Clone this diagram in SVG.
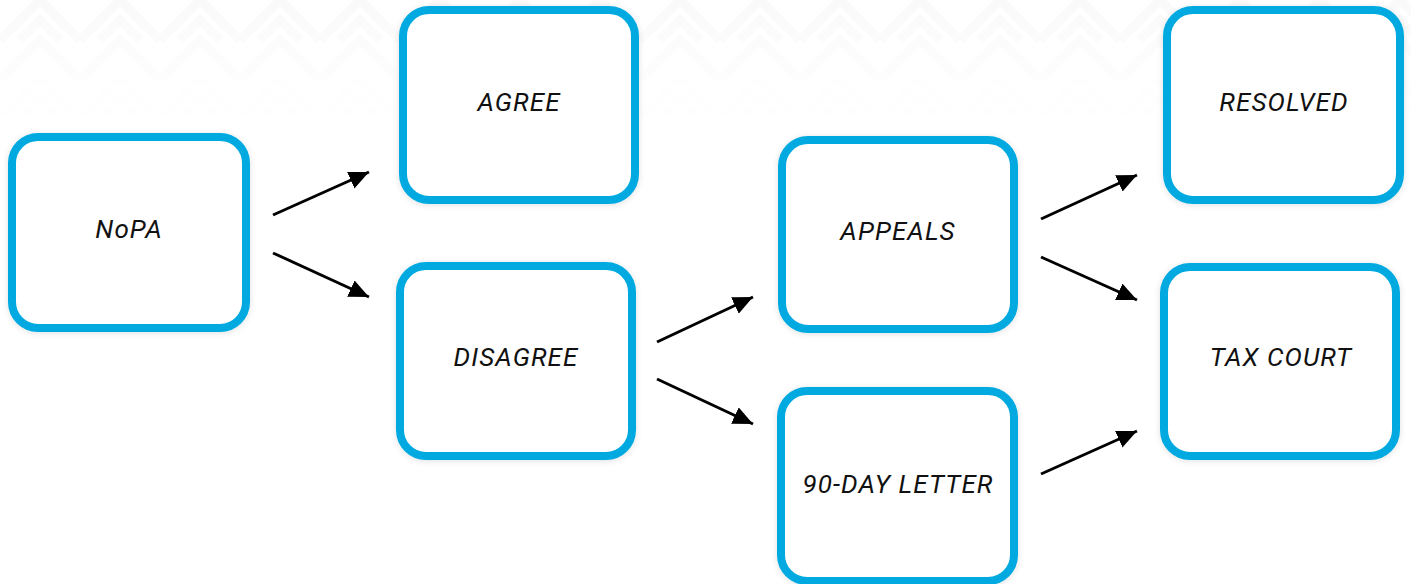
<svg xmlns="http://www.w3.org/2000/svg" width="1411" height="584" viewBox="0 0 1411 584">
  <defs>
    <style>
      .box { fill: #ffffff; stroke: #00A9E0; stroke-width: 8; filter: url(#sh); }
      .lbl { font-family: Roboto, "Liberation Sans", sans-serif; font-style: italic; font-size: 26px; letter-spacing: 1.1px; fill: #111111; text-anchor: middle; }
      .conn line { stroke: #000000; stroke-width: 3; marker-end: url(#ah); }
    </style>
    <marker id="ah" markerUnits="userSpaceOnUse" markerWidth="22" markerHeight="20" refX="20" refY="9" orient="auto">
      <path d="M0,0 L20,9 L0,18 z" fill="#000000"/>
    </marker>
    <filter id="sh" x="-10%" y="-10%" width="120%" height="120%">
      <feDropShadow dx="0" dy="1" stdDeviation="3" flood-color="#000000" flood-opacity="0.12"/>
    </filter>
    <pattern id="bgp" width="80" height="80" patternUnits="userSpaceOnUse">
      <path d="M0,40 L40,0 L80,40 M0,80 L40,40 L80,80 M20,40 L40,20 L60,40" fill="none" stroke="#f4f4f4" stroke-width="9"/>
    </pattern>
    <linearGradient id="fade" x1="0" y1="0" x2="0" y2="1">
      <stop offset="0" stop-color="#ffffff" stop-opacity="1"/>
      <stop offset="1" stop-color="#ffffff" stop-opacity="0"/>
    </linearGradient>
    <mask id="fm">
      <rect x="0" y="0" width="1411" height="120" fill="url(#fade)"/>
    </mask>
  </defs>
  <rect x="0" y="0" width="1411" height="584" fill="#ffffff"/>
  <rect x="0" y="0" width="1411" height="120" fill="url(#bgp)" mask="url(#fm)" opacity="0.5"/>

  <g id="nopa"><rect class="box" x="12" y="137" width="234" height="191" rx="26"/><text class="lbl" x="129" y="238">NoPA</text></g>
  <g id="agree"><rect class="box" x="403" y="10" width="232" height="190" rx="26"/><text class="lbl" x="519" y="111">AGREE</text></g>
  <g id="disagree"><rect class="box" x="400" y="266" width="232" height="190" rx="26"/><text class="lbl" x="516" y="366">DISAGREE</text></g>
  <g id="appeals"><rect class="box" x="782" y="140" width="232" height="189" rx="26"/><text class="lbl" x="898" y="240">APPEALS</text></g>
  <g id="letter90"><rect class="box" x="781" y="391" width="233" height="190" rx="26"/><text class="lbl" x="898" y="493">90-DAY LETTER</text></g>
  <g id="resolved"><rect class="box" x="1167" y="10" width="233" height="190" rx="26"/><text class="lbl" x="1284" y="111">RESOLVED</text></g>
  <g id="taxcourt"><rect class="box" x="1164" y="267" width="232" height="189" rx="26"/><text class="lbl" x="1281" y="366">TAX COURT</text></g>

  <g id="connectors" class="conn">
    <line x1="273" y1="215" x2="369" y2="172"/>
    <line x1="273" y1="253" x2="369" y2="297"/>
    <line x1="657" y1="342" x2="753" y2="297"/>
    <line x1="657" y1="379" x2="753" y2="424"/>
    <line x1="1041" y1="219" x2="1137" y2="175"/>
    <line x1="1041" y1="257" x2="1137" y2="300"/>
    <line x1="1041" y1="474" x2="1137" y2="431"/>
  </g>
</svg>
